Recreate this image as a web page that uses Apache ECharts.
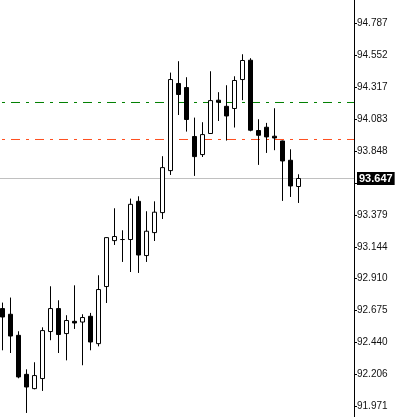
<!DOCTYPE html>
<html>
<head>
<meta charset="utf-8">
<script src="https://cdn.jsdelivr.net/npm/echarts@6/dist/echarts.min.js"></script>
<style>
html,body{margin:0;padding:0;background:#fff;}
#chart{width:401px;height:417px;}
</style>
</head>
<body>
<div id="chart"></div>
<script>
var opens  = [92.690,92.648,92.493,92.206,92.101,92.175,92.521,92.690,92.506,92.596,92.591,92.633,92.432,92.852,93.190,93.198,93.198,93.479,93.080,93.249,93.396,93.705,94.346,94.316,93.956,93.823,93.978,94.223,94.178,94.162,94.375,94.517,94.000,94.024,93.958,93.923,93.781,93.588];
var closes = [92.628,92.488,92.187,92.113,92.197,92.528,92.690,92.499,92.602,92.584,92.624,92.444,92.830,93.212,93.220,93.198,93.457,93.084,93.259,93.399,93.727,94.375,94.265,94.081,93.808,93.970,94.220,94.208,94.107,94.368,94.515,94.002,93.965,93.953,93.945,93.776,93.592,93.647];
var lows   = [92.383,92.363,92.177,91.922,92.096,92.084,92.457,92.363,92.309,92.540,92.273,92.383,92.412,92.731,93.158,93.033,92.959,92.952,93.033,93.187,93.349,93.673,94.114,93.992,93.666,93.805,93.975,94.070,93.926,94.022,94.223,93.994,93.747,93.835,93.855,93.482,93.511,93.467];
var highs  = [92.734,92.771,92.523,92.243,92.295,92.552,92.854,92.751,92.641,92.861,92.648,92.658,92.935,93.215,93.428,93.266,93.499,93.516,93.406,93.479,93.811,94.426,94.510,94.392,94.095,94.061,94.436,94.282,94.333,94.399,94.561,94.532,94.083,94.056,94.164,93.926,93.862,93.678];
var tickValues  = [94.787,94.552,94.317,94.083,93.848,93.613,93.379,93.144,92.910,92.675,92.440,92.206,91.971];
var labelValues = [94.787,94.552,94.317,94.083,93.848,93.379,93.144,92.910,92.675,92.440,92.206,91.971];
var greenLevel = 94.2061;
var redLevel = 93.9339;
var currentPrice = 93.647;

var candles = opens.map(function(o, i){ return [i, o, closes[i], lows[i], highs[i]]; });

var X_MIN = -0.2875, X_MAX = 43.9625;
var Y_MIN = 91.8922, Y_MAX = 94.9602;
var chart = echarts.init(document.getElementById('chart'), null, {renderer:'canvas'});
var dashDot = [9,6,3,6];
function levelSeries(value, color, type, withLabel){
  var s = {
    type:'line', silent:true, symbol:'none', showSymbol:false,
    color: color,
    data:[[X_MIN, value],[X_MAX, value]],
    lineStyle:{color:color, width:1, type:type, dashOffset:13, opacity:1},
    emphasis:{disabled:true},
    z:2
  };
  if (withLabel) {
    s.endLabel = {
      show:true, distance:3,
      formatter:function(){return value.toFixed(3);},
      backgroundColor:'#000', color:'#fff', fontWeight:'bold', fontFamily:'Liberation Sans', fontSize:11,
      padding:[1,2,1,2]
    };
  }
  return s;
}
chart.setOption({
  animation:false,
  backgroundColor:'#ffffff',
  grid:{left:0, right:47, top:0, bottom:0},
  xAxis:{
    type:'value', min:X_MIN, max:X_MAX,
    show:false, splitLine:{show:false}
  },
  yAxis:{
    type:'value', position:'right', min:Y_MIN, max:Y_MAX, scale:true,
    axisLine:{show:true, onZero:false, lineStyle:{color:'#000', width:1}},
    axisTick:{show:true, length:3, customValues:tickValues, lineStyle:{color:'#000'}},
    axisLabel:{
      customValues:labelValues, margin:3, color:'#111',
      fontFamily:'Liberation Sans', fontSize:10,
      formatter:function(v){ return Number(v).toFixed(3); }
    },
    splitLine:{show:false}
  },
  series:[
    levelSeries(greenLevel, '#008000', dashDot, false),
    levelSeries(redLevel, '#ff4e1f', dashDot, false),
    levelSeries(currentPrice, '#c0c0c0', 'solid', true),
    {
      type:'candlestick',
      data:candles,
      encode:{x:0, y:[1,2,3,4]},
      barWidth:4,
      z:5,
      itemStyle:{
        color:'#ffffff', color0:'#000000',
        borderColor:'#000000', borderColor0:'#000000', borderColorDoji:'#000000',
        borderWidth:1
      }
    }
  ]
});
</script>
</body>
</html>
